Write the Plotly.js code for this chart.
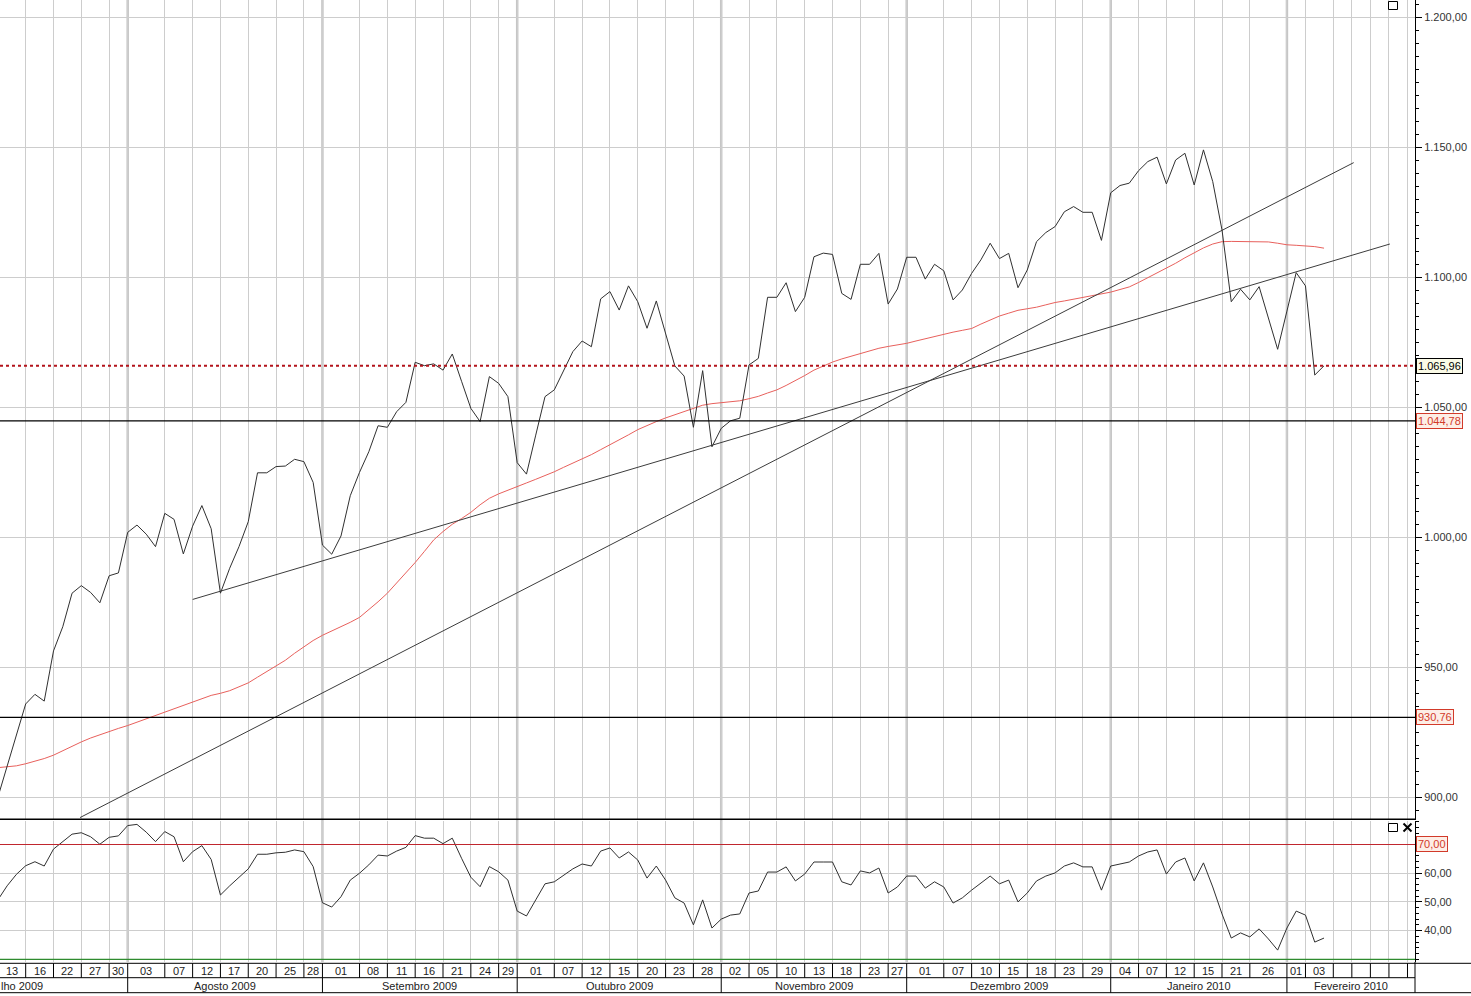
<!DOCTYPE html>
<html><head><meta charset="utf-8">
<script src="https://cdn.plot.ly/plotly-3.0.1.min.js"></script>
<style>html,body{margin:0;padding:0;background:#fff;overflow:hidden;} #chart{width:1471px;height:996px;}</style>
</head><body><div id="chart"></div><script>
// ---- data (trading-day index 0 = first visible session, 13 Jul 2009) ----
const closeValues = [900.0,912.2,924.5,935.9,939.6,937.0,956.3,965.6,978.5,981.4,978.8,974.8,985.2,986.3,
1001.9,1004.7,1001.2,996.4,1009.2,1006.9,993.6,1004.3,1012.2,1003.3,978.5,988.1,996.4,1006.0,1024.8,1024.8,1027.2,1027.4,1030.0,1029.1,1021.1,
997.0,993.5,1000.5,1016.0,1025.0,1032.9,1042.9,1042.3,1048.3,1051.9,1067.3,1066.0,1066.7,1064.3,1070.5,1060.0,1049.6,1044.5,1061.8,1059.2,1054.1,
1028.7,1024.3,1039.3,1054.1,1056.7,1064.3,1071.4,1075.5,1073.3,1091.7,1094.5,1087.4,1096.7,1090.6,1080.4,1090.9,1078.5,1065.9,1062.0,1042.3,1064.1,1034.8,
1041.9,1044.8,1045.8,1066.3,1068.8,1092.3,1092.3,1097.9,1086.8,1092.3,1107.9,1109.3,1108.8,1093.8,1091.5,1105.0,1105.0,1109.2,1089.7,1095.5,
1107.7,1107.7,1099.3,1105.0,1102.5,1091.3,1095.1,1101.5,1106.7,1113.1,1107.2,1109.2,1096.0,1102.8,1113.7,1117.2,1119.5,1125.2,1127.2,1125.0,1125.0,1114.2,
1132.5,1135.3,1136.2,1141.0,1144.5,1146.2,1135.9,1145.1,1147.7,1135.5,1149.0,1136.8,1118.2,1090.6,1095.4,1091.3,1096.4,1084.3,1072.3,
1087.0,1101.8,1096.7,1062.4,1065.96];
const maValues = [911.4,911.7,912.1,912.9,913.8,914.9,916.2,918.0,919.8,921.3,922.8,924.1,925.4,926.5,
927.6,928.9,930.3,931.6,932.9,934.2,935.5,936.8,938.0,939.2,940.0,941.0,942.5,944.0,946.2,948.3,950.5,952.7,955.4,958.0,960.3,
962.3,963.9,965.6,967.3,969.2,972.1,975.2,978.5,982.3,986.2,990.3,994.6,999.0,1002.2,1005.0,1007.2,1009.6,1012.5,1015.0,1016.7,1018.2,
1019.6,1020.9,1022.3,1023.6,1025.2,1026.9,1028.5,1030.0,1031.8,1033.7,1035.5,1037.4,1039.4,1041.4,1043.1,1044.5,1045.9,1047.1,1048.5,1049.7,1050.8,1051.4,
1051.8,1052.1,1052.5,1053.3,1054.2,1055.5,1056.7,1058.4,1060.2,1062.2,1064.3,1065.9,1067.4,1068.6,1069.7,1070.8,1071.9,1072.7,1073.4,1074.0,
1074.6,1075.5,1076.4,1077.3,1078.2,1078.9,1079.6,1080.3,1082.0,1083.5,1085.1,1086.2,1087.3,1087.9,1088.5,1089.4,1090.3,1090.9,1091.6,1092.1,1092.8,1093.5,
1094.3,1095.3,1096.3,1098.0,1099.8,1101.6,1103.4,1105.4,1107.5,1109.4,1111.3,1112.8,1113.7,1113.8,1113.8,1113.8,1113.8,1113.6,1113.1,
1112.5,1112.3,1112.1,1111.8,1111.2];
const rsiValues = [50.7,55.6,59.6,62.6,64.0,62.5,68.4,71.0,73.6,74.1,72.7,70.1,72.5,73.0,
76.6,77.0,74.3,71.0,74.5,72.7,64.0,67.5,69.6,64.8,52.4,55.6,58.6,61.5,66.6,66.6,67.1,67.3,68.1,67.5,62.3,
49.7,48.2,51.8,57.6,60.0,62.9,66.3,66.0,67.7,69.0,73.1,72.2,72.2,70.3,72.2,65.2,58.6,55.3,62.3,60.5,57.6,
46.8,45.1,50.7,56.3,57.0,59.4,61.5,63.2,62.5,67.7,68.8,65.3,67.4,64.6,58.3,62.5,57.6,51.4,49.6,42.0,50.7,40.9,
44.0,45.4,45.8,53.1,53.8,60.4,60.4,62.2,57.3,59.7,63.9,63.9,63.9,57.0,55.9,60.8,60.1,61.8,53.1,55.2,
59.0,59.0,54.8,57.0,55.2,49.6,51.4,54.1,56.6,59.0,56.3,57.6,50.0,53.1,57.3,59.0,60.1,62.5,63.6,62.2,62.2,54.1,
62.5,63.2,63.9,66.0,67.4,68.1,59.7,63.9,65.3,57.3,63.6,55.2,45.8,37.4,39.2,37.8,40.6,37.1,33.2,
40.9,46.8,45.4,36.0,37.4];

const tickIndex = [0,3,6,9,12,14,18,21,24,27,30,33,35,39,42,45,48,51,54,56,60,63,66,69,72,75,78,81,84,87,90,93,96,98,102,105,108,111,114,117,120,123,126,129,132,135,139,141,144,146,148,150,152];
const tickLabels = ['13','16','22','27','30','03','07','12','17','20','25','28','01','08','11','16','21','24','29','01','07','12','15','20','23','28','02','05','10','13','18','23','27','01','07','10','15','18','23','29','04','07','12','15','21','26','01','03','','','','',''];
// first month is only partly visible at the left edge of the chart ("...lho 2009")
const monthNames = ['lho 2009','Agosto 2009','Setembro 2009','Outubro 2009','Novembro 2009','Dezembro 2009','Janeiro 2010','Fevereiro 2010'];
const monthStartIndex = [-10,14,35,56,78,98,120,139];

const priceTickVals = [900,950,1000,1050,1100,1150,1200];
const priceTickText = ['900,00','950,00','1.000,00','1.050,00','1.100,00','1.150,00','1.200,00'];
const rsiTickVals = [40,50,60];
const rsiTickText = ['40,00','50,00','60,00'];

const trendAIndex = [21.01,150.1];
const trendAValue = [976.1,1112.8];
const trendBIndex = [8.86,146.2];
const trendBValue = [892.2,1144.1];

const supportLevels = [1044.78,930.76];
const supportTexts = ['1.044,78','930,76'];
const lastPrice = 1065.96;
const lastPriceText = '1.065,96';
const rsiUpper = 70, rsiLower = 30;
const rsiUpperText = '70,00';

// ---- geometry ----
const W=1471,H=996,ML=0,MR=56,MT=0,MB=34;
const PW=W-ML-MR, PH=H-MT-MB;
const px2y = py => (PH-(py-MT))/PH;
const px2x = px => (px-ML)/PW;
const xRange=[0.231,152.81];
const font = 'Liberation Sans, Arial, sans-serif';
const idx = closeValues.map((_,i)=>i);

const traces = [
 {x:idx,y:maValues,type:'scatter',mode:'lines',line:{color:'#e8605c',width:1},hoverinfo:'skip'},
 {x:trendAIndex,y:trendAValue,type:'scatter',mode:'lines',line:{color:'#3c3c3c',width:1},hoverinfo:'skip'},
 {x:trendBIndex,y:trendBValue,type:'scatter',mode:'lines',line:{color:'#3c3c3c',width:1},hoverinfo:'skip'},
 {x:idx,y:closeValues,type:'scatter',mode:'lines',line:{color:'#303030',width:1},hoverinfo:'skip'},
 {x:idx,y:rsiValues,type:'scatter',mode:'lines',xaxis:'x',yaxis:'y2',line:{color:'#303030',width:1},hoverinfo:'skip'}
];

const shapes = [];
monthStartIndex.slice(1).forEach(m=>{
  shapes.push({type:'line',xref:'x',yref:'paper',x0:m,x1:m,y0:0,y1:1,line:{color:'#c6c6c6',width:2.5},layer:'below'});
});
supportLevels.forEach(v=>shapes.push({type:'line',xref:'paper',yref:'y',x0:0,x1:1,y0:v,y1:v,line:{color:'#000',width:1.3}}));
shapes.push({type:'line',xref:'paper',yref:'y',x0:0,x1:1,y0:lastPrice,y1:lastPrice,line:{color:'#b3131b',width:2,dash:'dot'}});
shapes.push({type:'line',xref:'paper',yref:'y2',x0:0,x1:1,y0:rsiUpper,y1:rsiUpper,line:{color:'#c0262e',width:1.2}});
shapes.push({type:'line',xref:'paper',yref:'y2',x0:0,x1:1,y0:rsiLower,y1:rsiLower,line:{color:'#2e8b2e',width:1.2}});
shapes.push({type:'line',xref:'paper',yref:'paper',x0:0,x1:1,y0:px2y(819.3),y1:px2y(819.3),line:{color:'#000',width:1.5}});
shapes.push({type:'line',xref:'paper',yref:'paper',x0:0,x1:px2x(1471),y0:px2y(963.3),y1:px2y(963.3),line:{color:'#000',width:1}});
shapes.push({type:'line',xref:'paper',yref:'paper',x0:0,x1:1,y0:px2y(977.7),y1:px2y(977.7),line:{color:'#000',width:1}});
shapes.push({type:'line',xref:'paper',yref:'paper',x0:0,x1:px2x(1471),y0:px2y(992.7),y1:px2y(992.7),line:{color:'#000',width:1}});
shapes.push({type:'line',xref:'paper',yref:'paper',x0:1,x1:1,y0:px2y(962),y1:px2y(992.7),line:{color:'#000',width:1}});
tickIndex.forEach(t=>{
  if(t>xRange[0]) shapes.push({type:'line',xref:'x',yref:'paper',x0:t,x1:t,y0:px2y(963.3),y1:px2y(977.7),line:{color:'#000',width:1}});
});
monthStartIndex.slice(1).forEach(m=>{
  shapes.push({type:'line',xref:'x',yref:'paper',x0:m,x1:m,y0:px2y(977.7),y1:px2y(992.7),line:{color:'#000',width:1}});
});
function box(x0,y0,x1,y1){shapes.push({type:'rect',xref:'paper',yref:'paper',x0:px2x(x0),x1:px2x(x1),y0:px2y(y1),y1:px2y(y0),line:{color:'#000',width:1},fillcolor:'rgba(255,255,255,0)'});}
box(1388.5,1.5,1397.5,9.5);
box(1388.5,823.5,1397.5,831.5);
shapes.push({type:'line',xref:'paper',yref:'paper',x0:px2x(1403.5),x1:px2x(1411.5),y0:px2y(823.5),y1:px2y(831.5),line:{color:'#000',width:2}});
shapes.push({type:'line',xref:'paper',yref:'paper',x0:px2x(1403.5),x1:px2x(1411.5),y0:px2y(831.5),y1:px2y(823.5),line:{color:'#000',width:2}});

const annotations = [];
for(let k=0;k<tickIndex.length-1;k++){
  if(!tickLabels[k]) continue;
  annotations.push({xref:'x',yref:'paper',x:(tickIndex[k]+tickIndex[k+1])/2,y:px2y(970.5),text:tickLabels[k],showarrow:false,
    font:{family:font,size:11,color:'#222'},xanchor:'center',yanchor:'middle'});
}
// first (partial) month label hugs the left edge; others centred in their cell
annotations.push({xref:'paper',yref:'paper',x:0,xshift:-1,y:px2y(985.5),text:monthNames[0],showarrow:false,
  font:{family:font,size:11,color:'#222'},xanchor:'left',yanchor:'middle'});
for(let k=1;k<monthNames.length;k++){
  const end = k<monthNames.length-1 ? monthStartIndex[k+1] : xRange[1];
  annotations.push({xref:'x',yref:'paper',x:(monthStartIndex[k]+end)/2,y:px2y(985.5),text:monthNames[k],showarrow:false,
    font:{family:font,size:11,color:'#222'},xanchor:'center',yanchor:'middle'});
}
annotations.push({xref:'paper',yref:'y',x:1,xshift:1,y:lastPrice,text:lastPriceText,showarrow:false,xanchor:'left',yanchor:'middle',
  font:{family:font,size:11,color:'#000'},bgcolor:'#fafae6',bordercolor:'#000',borderwidth:1,borderpad:1});
supportLevels.forEach((v,k)=>annotations.push({xref:'paper',yref:'y',x:1,xshift:1,y:v,text:supportTexts[k],showarrow:false,xanchor:'left',yanchor:'middle',
  font:{family:font,size:11,color:'#d23a2a'},bgcolor:'#fdeee6',bordercolor:'#d23a2a',borderwidth:1,borderpad:1}));
annotations.push({xref:'paper',yref:'y2',x:1,xshift:1,y:rsiUpper,text:rsiUpperText,showarrow:false,xanchor:'left',yanchor:'middle',
  font:{family:font,size:11,color:'#d23a2a'},bgcolor:'#fdeee6',bordercolor:'#d23a2a',borderwidth:1,borderpad:1});

const layout = {
  width:W,height:H,margin:{l:ML,r:MR,t:MT,b:MB,pad:0},
  paper_bgcolor:'#fff',plot_bgcolor:'#fff',showlegend:false,
  font:{family:font,size:11,color:'#222'},
  xaxis:{range:xRange,tickmode:'array',tickvals:tickIndex,showticklabels:false,ticks:'',showgrid:true,gridcolor:'#cdcdcd',gridwidth:1,
    zeroline:false,showline:false,anchor:'y2',fixedrange:true},
  yaxis:{domain:[px2y(819.5),1],range:[891.46,1206.65],side:'right',tickmode:'array',tickvals:priceTickVals,ticktext:priceTickText,
    ticks:'outside',ticklen:6,tickcolor:'#000',tickwidth:1,showline:true,linecolor:'#000',linewidth:1,showgrid:true,gridcolor:'#cdcdcd',
    zeroline:false,anchor:'x',tickfont:{family:font,size:11,color:'#333'},
    minor:{tickmode:'linear',tick0:0,dtick:5,ticks:'outside',ticklen:3,tickcolor:'#000',showgrid:false}},
  yaxis2:{domain:[0,px2y(820.5)],range:[29.06,78.36],side:'right',tickmode:'array',tickvals:rsiTickVals,ticktext:rsiTickText,
    ticks:'outside',ticklen:6,tickcolor:'#000',showline:true,linecolor:'#000',linewidth:1,showgrid:true,gridcolor:'#cdcdcd',
    zeroline:false,anchor:'x',tickfont:{family:font,size:11,color:'#333'},
    minor:{tickmode:'linear',tick0:0,dtick:2,ticks:'outside',ticklen:3,tickcolor:'#000',showgrid:false}},
  shapes:shapes,annotations:annotations
};
Plotly.newPlot('chart',traces,layout,{staticPlot:true,displayModeBar:false});
</script></body></html>
